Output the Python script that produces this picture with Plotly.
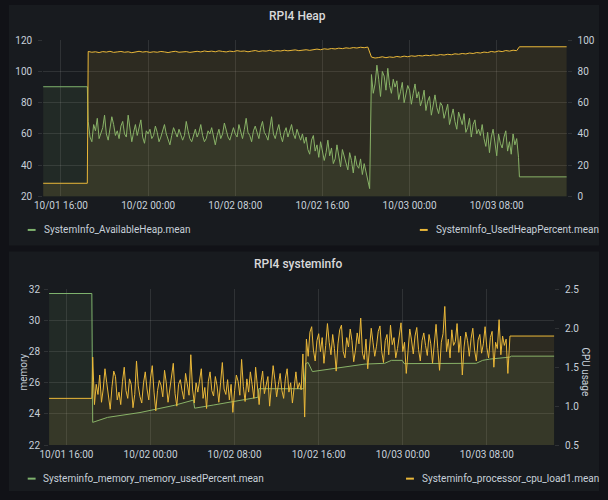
import pandas as pd
import plotly.graph_objects as go

# ---------------- data ----------------
# Top panel: RPI4 Heap
heap_avail_start = 90.2
heap_avail_seg1_start = "2020-10-01 18:30"
heap_avail_seg1 = [
    68, 58, 55, 66, 62, 70, 57, 61, 64, 72, 60, 56, 63, 71, 66, 59, 62, 57, 65, 68, 60, 58, 72, 63, 55, 61, 66, 59, 64, 69, 58, 54, 62,
    60, 63, 57, 59, 65, 61, 55, 58, 62, 66, 60, 57, 53, 59, 64, 61, 58, 63, 60, 56, 59, 68, 62, 57, 55, 60, 63, 58, 61, 66, 59, 55,
    57, 62, 60, 64, 58, 53, 59, 63, 57, 60, 67, 62, 58, 56, 61, 64,
    60, 58, 66, 62, 57, 63, 70, 61, 59, 55, 62, 65, 60, 57, 64, 68, 61, 59, 56, 63, 71, 60, 57, 62, 66, 59, 55, 61, 64, 58, 62, 66,
    60, 57, 63, 59, 56, 60,
    54, 58, 50, 47, 56, 59, 49, 53, 45, 55, 50, 43, 48, 56, 46, 51, 41, 44, 53, 47, 39, 50, 45, 42, 37, 48, 43, 35, 46, 40, 38, 44,
    34, 41, 36, 31, 25,
]
heap_avail_seg2_start = "2020-10-02 20:30"
heap_avail_seg2 = [
    98, 86, 92, 104, 95, 84, 100, 97, 88, 102, 91, 86, 95,
    90, 94, 82, 87, 93, 80, 85, 91, 88, 79, 86, 92, 83,
    87, 78, 82, 88, 75, 81, 84, 72, 79, 85, 77, 73, 80,
    78, 70, 74, 79, 66, 72, 76, 68, 63, 74, 70,
    66, 73, 61, 64, 70, 58, 66, 69, 60, 63, 59,
    66, 57, 52, 61, 48, 58, 63, 55, 46, 60, 54,
    51, 58, 62, 49, 55, 47, 60, 53, 57, 45,
]
heap_avail_end = 32.5

heap_used_start = 8.4
heap_used_seg1_start = "2020-10-01 18:30"
heap_used_seg1 = [
    92.8, 92.3, 92.6, 92.1, 92.7, 92.4, 92.9, 92.2, 92.5, 92.8, 92.3, 92.6, 92.0, 92.5, 92.9, 92.4, 92.7, 92.2, 92.6, 92.3,
    92.8, 92.5, 92.1, 92.6, 92.9, 92.3, 92.5, 92.7, 92.2, 92.6, 92.9, 92.5, 93.1, 92.7, 93.0, 92.6, 93.2, 92.8, 92.5, 93.0,
    92.7, 93.3, 92.9, 93.1, 92.6, 93.0, 93.4, 92.8, 93.2, 93.0, 93.5, 92.9, 93.3, 93.1, 93.6, 93.2, 93.4, 93.8, 93.3, 93.7,
    93.9, 93.5, 94.1, 94.3, 93.9, 94.5, 94.2, 94.7, 94.4, 94.9, 94.6, 95.1, 94.8, 95.3, 95.0, 95.5, 95.2, 95.6,
]
heap_used_seg2_start = "2020-10-02 20:30"
heap_used_seg2 = [
    89.2, 88.6, 88.9, 89.4, 88.8, 89.3, 89.0, 89.6, 89.2, 89.8, 89.4, 90.0, 89.7, 90.2, 89.9, 90.4, 90.1, 90.6, 90.3, 90.8,
    90.5, 91.0, 90.7, 91.3, 91.0, 91.5, 91.2, 91.8, 91.5, 92.1, 91.8, 92.4, 92.1, 92.8, 92.4, 93.1, 92.7, 93.4, 93.0, 93.6,
    93.3,
]
heap_used_end = 95.8

# Bottom panel: RPI4 systeminfo
mem_times = [
    "2020-10-01 14:20", "2020-10-01 18:25", "2020-10-01 18:30", "2020-10-01 19:55", "2020-10-01 23:00",
    "2020-10-02 02:15", "2020-10-02 04:05", "2020-10-02 04:12", "2020-10-02 05:58", "2020-10-02 08:24",
    "2020-10-02 10:13", "2020-10-02 10:18", "2020-10-02 14:35", "2020-10-02 14:45", "2020-10-02 15:00",
    "2020-10-02 15:24", "2020-10-02 17:17", "2020-10-02 18:30", "2020-10-02 20:24", "2020-10-02 22:17",
    "2020-10-02 22:55", "2020-10-02 23:57", "2020-10-03 00:08", "2020-10-03 07:00", "2020-10-03 07:36",
    "2020-10-03 08:16", "2020-10-03 10:12", "2020-10-03 10:20", "2020-10-03 14:30",
]
mem_values = [
    31.73, 31.73, 23.46, 23.78, 24.09,
    24.55, 24.89, 24.37, 24.57, 24.87,
    25.07, 25.62, 25.62, 27.23, 27.30,
    26.72, 26.90, 27.00, 27.20, 27.25,
    27.44, 27.44, 27.23, 27.25, 27.44,
    27.52, 27.65, 27.71, 27.71,
]

cpu_start = 1.10
cpu_seg1_start = "2020-10-01 18:30"
cpu_seg1 = [
    1.63, 1.02, 1.28, 1.15, 1.40, 1.05, 1.22, 1.48, 1.30, 1.12,
    0.96, 1.25, 1.45, 1.38, 1.08, 1.18, 1.02, 1.32, 1.50, 1.20,
    1.10, 1.35, 1.28, 0.98, 1.15, 1.58, 1.26, 1.12, 1.04, 1.30,
    1.44, 1.22, 1.08, 1.36, 1.52, 1.18, 0.94, 1.20, 1.33, 1.27,
    1.12, 1.46, 1.30, 1.05, 1.24, 1.38, 1.55, 1.16, 1.00, 1.28,
    1.34, 1.20, 1.09, 1.42, 1.26, 1.14, 1.66, 1.22, 1.04, 1.30,
    1.18, 1.36, 1.48, 1.10, 1.24, 0.97, 1.32, 1.44, 1.20, 1.13,
    1.38, 1.26, 1.05, 1.30, 1.56, 1.22, 1.15, 1.34, 1.08, 1.28,
    0.92, 1.20, 1.40, 1.32, 1.14, 1.60, 1.25, 1.06, 1.35, 1.18,
    1.44, 1.28, 1.10, 1.50, 1.22, 1.02, 1.30, 1.45, 1.16, 1.26,
    1.38, 1.00, 1.24, 1.52, 1.34, 1.12, 1.28, 1.42, 1.20, 1.10,
    1.36, 1.48, 1.18, 1.30, 1.04, 1.26, 1.44, 1.22, 1.30, 1.21,
    1.67, 0.86,
]
cpu_seg2_start = "2020-10-02 14:50"
cpu_seg2 = [
    1.86, 1.64, 1.95, 2.02, 1.72, 1.58, 1.84, 1.93, 1.70, 1.88,
    1.55, 1.78, 2.06, 1.82, 1.66, 1.92, 1.74, 1.45, 1.80, 1.98,
    2.04, 1.70, 1.62, 1.88, 1.76, 1.99, 1.84, 1.57, 1.72, 1.94,
    1.80, 2.13, 1.68, 1.60, 1.86, 1.48, 1.75, 2.00, 1.82, 1.64,
    1.77, 1.96, 2.03, 1.70, 1.56, 1.84, 1.92, 1.66, 2.04, 1.79,
    1.88, 1.62, 1.74, 1.95, 2.07, 1.70, 1.82, 1.42, 1.76, 1.99,
    1.85, 1.67, 1.90, 2.01, 1.73, 1.58, 1.84, 1.94, 1.78, 1.65,
    1.92, 1.80, 1.55, 1.86, 2.05, 1.74, 1.46, 1.82, 1.93, 2.28,
    1.70, 1.86, 1.62, 1.98, 1.78, 1.83, 2.06, 1.69, 1.90, 1.40,
    1.76, 1.95, 1.84, 1.64, 1.87, 2.00, 1.72, 1.58, 1.85, 1.92,
    1.68, 1.80, 2.02, 1.75, 1.62, 1.88, 1.96, 1.50, 1.82, 1.74,
    2.11, 1.66, 1.90, 1.78, 1.86, 1.42,
]
cpu_end = 1.90

panel_titles = ["RPI4 Heap", "RPI4 systeminfo"]
legend_names = [
    "SystemInfo_AvailableHeap.mean", "SystemInfo_UsedHeapPercent.mean",
    "Systeminfo_memory_memory_usedPercent.mean", "Systeminfo_processor_cpu_load1.mean",
]

# ---------------- build series ----------------
T0, T1 = "2020-10-01 14:20", "2020-10-03 14:30"

def rng(start, vals, freq):
    return list(pd.date_range(start, periods=len(vals), freq=freq))

ha_x = [pd.Timestamp(T0), pd.Timestamp("2020-10-01 18:25")] + rng(heap_avail_seg1_start, heap_avail_seg1, "10min") \
    + rng(heap_avail_seg2_start, heap_avail_seg2, "10min") + [pd.Timestamp("2020-10-03 10:05"), pd.Timestamp(T1)]
ha_y = [heap_avail_start, heap_avail_start] + heap_avail_seg1 + heap_avail_seg2 + [heap_avail_end, heap_avail_end]

hu_x = [pd.Timestamp(T0), pd.Timestamp("2020-10-01 18:25")] + rng(heap_used_seg1_start, heap_used_seg1, "20min") \
    + rng(heap_used_seg2_start, heap_used_seg2, "20min") + [pd.Timestamp("2020-10-03 10:05"), pd.Timestamp(T1)]
hu_y = [heap_used_start, heap_used_start] + heap_used_seg1 + heap_used_seg2 + [heap_used_end, heap_used_end]

cpu_x = [pd.Timestamp(T0), pd.Timestamp("2020-10-01 18:25")] + rng(cpu_seg1_start, cpu_seg1, "10min") \
    + rng(cpu_seg2_start, cpu_seg2, "10min") + [pd.Timestamp("2020-10-03 10:12"), pd.Timestamp(T1)]
cpu_y = [cpu_start, cpu_start] + cpu_seg1 + cpu_seg2 + [cpu_end, cpu_end]

# ---------------- styling ----------------
W, H = 608, 500
PAGE = "#111217"
PANEL = "#181b1f"
GREEN = "#7EB26D"
ORANGE = "#EAB839"
GRID = "rgba(255,255,255,0.10)"
TXT = "#c7d0d9"
FONT = "Roboto"

def fx(p):
    return p / W

def fy(p):
    return 1 - p / H

fig = go.Figure()

fig.add_trace(go.Scatter(x=ha_x, y=ha_y, mode="lines", line=dict(color=GREEN, width=1),
                         fill="tozeroy", fillcolor="rgba(126,178,109,0.10)", xaxis="x", yaxis="y",
                         name=legend_names[0], showlegend=False))
fig.add_trace(go.Scatter(x=hu_x, y=hu_y, mode="lines", line=dict(color=ORANGE, width=1),
                         fill="tozeroy", fillcolor="rgba(234,184,57,0.10)", xaxis="x", yaxis="y2",
                         name=legend_names[1], showlegend=False))
fig.add_trace(go.Scatter(x=mem_times, y=mem_values, mode="lines", line=dict(color=GREEN, width=1),
                         fill="tozeroy", fillcolor="rgba(126,178,109,0.10)", xaxis="x2", yaxis="y3",
                         name=legend_names[2], showlegend=False))
fig.add_trace(go.Scatter(x=cpu_x, y=cpu_y, mode="lines", line=dict(color=ORANGE, width=1),
                         fill="tozeroy", fillcolor="rgba(234,184,57,0.10)", xaxis="x2", yaxis="y4",
                         name=legend_names[3], showlegend=False))

tickfont = dict(family=FONT, size=10, color=TXT)
xcommon = dict(type="date", tick0="2020-10-01 16:00", dtick=8 * 3600 * 1000, tickformat="%m/%d %H:%M",
               showgrid=True, gridcolor=GRID, gridwidth=1, zeroline=False, showline=False,
               ticks="", tickfont=tickfont, ticklabelstandoff=2, fixedrange=True)
ycommon = dict(showgrid=True, gridcolor=GRID, gridwidth=1, zeroline=False, showline=False,
               ticks="outside", ticklen=4, tickcolor=GRID, tickfont=tickfont, fixedrange=True)
ycommon_r = {k: v for k, v in ycommon.items() if k != "showgrid"}

top_x = [fx(34.7), fx(566)]
top_y = [fy(195.7), fy(36)]
bot_x = [fx(40.7), fx(553.3)]
bot_y = [fy(450), fy(290.7)]

fig.update_layout(
    width=W, height=H, margin=dict(l=0, r=0, t=0, b=0),
    paper_bgcolor=PAGE, plot_bgcolor="rgba(0,0,0,0)",
    font=dict(family=FONT, color=TXT),
    showlegend=False,
    xaxis=dict(domain=top_x, anchor="y", range=["2020-10-01 14:22", "2020-10-03 14:25"], **xcommon),
    yaxis=dict(domain=top_y, anchor="x", range=[20, 120], dtick=20, ticklabelstandoff=4, **ycommon),
    yaxis2=dict(overlaying="y", side="right", anchor="x", range=[0, 100], dtick=20, showgrid=False,
                ticklabelstandoff=4, **ycommon_r),
    xaxis2=dict(domain=bot_x, anchor="y3", range=["2020-10-01 14:21", "2020-10-03 14:24"], **xcommon),
    yaxis3=dict(domain=bot_y, anchor="x2", range=[22, 32], dtick=2, ticklabelstandoff=2, **ycommon),
    yaxis4=dict(overlaying="y3", side="right", anchor="x2", range=[0.5, 2.5], dtick=0.5, tickformat=".1f",
                showgrid=False, ticklabelstandoff=4, **ycommon_r),
)

shapes = []
for (y0, y1) in [(0, 246), (252, 497)]:
    shapes.append(dict(type="rect", xref="paper", yref="paper", x0=fx(0), x1=fx(599), y0=fy(y1), y1=fy(y0),
                       fillcolor=PANEL, line=dict(width=0), layer="below"))
for (xa, xb, yy, col) in [(19, 27, 230, GREEN), (417, 425, 230, ORANGE),
                          (19, 27, 484.3, GREEN), (403, 411, 484.3, ORANGE)]:
    shapes.append(dict(type="line", xref="paper", yref="paper", x0=fx(xa), x1=fx(xb), y0=fy(yy), y1=fy(yy),
                       line=dict(color=col, width=2)))
fig.update_layout(shapes=shapes)

ann = []
for title, yy in [(panel_titles[0], 11.7), (panel_titles[1], 265)]:
    ann.append(dict(text=title, x=fx(293), y=fy(yy), xref="paper", yref="paper", showarrow=False,
                    xanchor="center", yanchor="middle",
                    font=dict(family=FONT, size=12, color="#d8d9da", weight=500)))
for (txt, xx, yy) in [(legend_names[0], 33, 230), (legend_names[1], 431, 230),
                      (legend_names[2], 32.7, 484.3), (legend_names[3], 416.7, 484.3)]:
    ann.append(dict(text=txt, x=fx(xx), y=fy(yy), xref="paper", yref="paper", showarrow=False,
                    xanchor="left", yanchor="middle", font=dict(family=FONT, size=10, color=TXT)))
ann.append(dict(text="memory", x=fx(15), y=fy(375), xref="paper", yref="paper", showarrow=False,
                textangle=-90, xanchor="center", yanchor="middle", font=dict(family=FONT, size=10, color=TXT)))
ann.append(dict(text="CPU usage", x=fx(585), y=fy(375), xref="paper", yref="paper", showarrow=False,
                textangle=90, xanchor="center", yanchor="middle", font=dict(family=FONT, size=10, color=TXT)))
fig.update_layout(annotations=ann)

fig.write_html("out.html")
